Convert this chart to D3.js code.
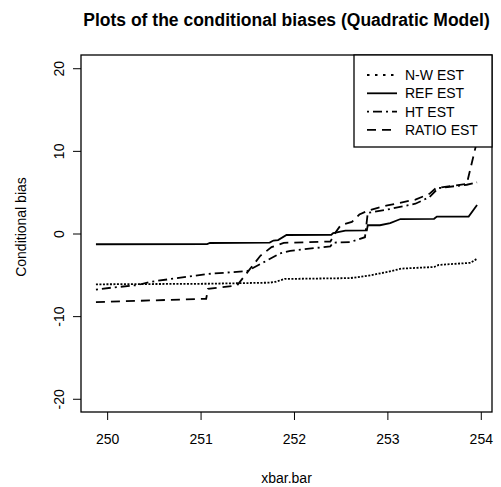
<!DOCTYPE html>
<html>
<head>
	<meta charset="utf-8">
	<script src="https://cdn.jsdelivr.net/npm/d3@7"></script>
	<style>
		html, body {
			padding: 0;
			margin: 0;
			background: white;
		}
		text {
			font-family: "Liberation Sans", Arial, sans-serif;
		}
	</style>
</head>
<body>
	<script>
		var width = 501, height = 487;

		// data: [xbar.bar, conditional bias]
		var nwEst = [[249.88,-6.15],[251.07,-6.08],[251.74,-5.95],[251.8,-5.85],[251.9,-5.5],
			[252.6,-5.4],[252.8,-5.1],[253.0,-4.65],[253.15,-4.25],[253.5,-4.05],
			[253.55,-3.8],[253.89,-3.55],[253.96,-3.05]];
		var refEst = [[249.88,-1.3],[251.07,-1.28],[251.1,-1.15],[251.74,-1.1],[251.78,-0.85],
			[251.83,-0.8],[251.92,-0.18],[252.4,-0.15],[252.42,0.05],[252.55,0.35],
			[252.78,0.38],[252.79,1.0],[252.92,1.0],[253.03,1.25],[253.14,1.75],
			[253.5,1.78],[253.53,2.05],[253.87,2.05],[253.96,3.45]];
		var htEst = [[249.88,-6.8],[250.05,-6.55],[250.32,-6.25],[250.46,-5.85],[251.07,-4.9],
			[251.5,-4.55],[251.64,-3.7],[251.85,-2.4],[251.96,-2.1],[252.39,-1.55],
			[252.42,-1.1],[252.6,-1.05],[252.76,-0.45],[252.79,2.5],[253.0,2.9],
			[253.3,3.6],[253.45,4.4],[253.52,5.2],[253.55,5.5],[253.85,5.9],[253.96,6.2]];
		var ratioEst = [[249.88,-8.3],[251.06,-7.9],[251.08,-6.7],[251.39,-6.3],[251.64,-2.7],
			[251.76,-1.65],[251.89,-1.13],[252.39,-0.97],[252.45,0.2],[252.5,1.0],
			[252.62,1.4],[252.7,2.3],[252.8,2.8],[253.0,3.4],[253.3,4.1],[253.45,4.8],
			[253.52,5.5],[253.85,6.0],[253.96,11.2]];

		var xTicks = [250, 251, 252, 253, 254];
		var yTicks = [-20, -10, 0, 10, 20];
		var legendNames = ["N-W EST", "REF EST", "HT EST", "RATIO EST"];
		var dashes = ["2,1.5", null, "2,4,9,4", "9,6"];

		var series = [nwEst, refEst, htEst, ratioEst];

		/* plot region, as R lays it out */
		var pLeft = 81, pRight = 492, pTop = 55, pBottom = 412;

		var svg = d3.select('body').append('svg')
			.attr('width', width)
			.attr('height', height);

		var x = d3.scaleLinear().domain([249.72, 254.12]).range([pLeft, pRight]);
		var y = d3.scaleLinear().domain([-21.6, 21.6]).range([pBottom, pTop]);

		// plain hyphen for negatives, like R
		var fmt = function(d) { return String(d); };

		/* axes */
		var xAxis = svg.append('g')
			.attr('transform', 'translate(0,' + pBottom + ')')
			.call(d3.axisBottom(x).tickValues(xTicks).tickSize(8).tickPadding(14).tickFormat(fmt));
		xAxis.select('.domain').remove();
		xAxis.selectAll('text').attr('font-size', 14).attr('fill', 'black');

		var yAxis = svg.append('g')
			.attr('transform', 'translate(' + pLeft + ',0)')
			.call(d3.axisLeft(y).tickValues(yTicks).tickSize(8).tickFormat(fmt));
		yAxis.select('.domain').remove();
		yAxis.selectAll('.tick text')
			.attr('font-size', 14)
			.attr('fill', 'black')
			.attr('text-anchor', 'middle')
			.attr('x', null).attr('dy', null)
			.attr('y', 0)
			.attr('transform', 'translate(-17,0) rotate(-90)');

		/* box */
		svg.append('rect')
			.attr('x', pLeft).attr('y', pTop)
			.attr('width', pRight - pLeft).attr('height', pBottom - pTop)
			.attr('fill', 'none').attr('stroke', 'black').attr('stroke-width', 1.3);

		/* lines */
		var line = d3.line()
			.x(function(d) { return x(d[0]); })
			.y(function(d) { return y(d[1]); });

		svg.selectAll('path.series')
			.data(series)
			.enter().append('path')
			.attr('class', 'series')
			.attr('d', line)
			.attr('fill', 'none')
			.attr('stroke', 'black')
			.attr('stroke-width', 1.8)
			.attr('stroke-dasharray', function(d, i) { return dashes[i]; });

		/* legend */
		var lg = svg.append('g');
		lg.append('rect')
			.attr('x', 354).attr('y', pTop)
			.attr('width', pRight - 354).attr('height', 92)
			.attr('fill', 'white').attr('stroke', 'black').attr('stroke-width', 1.3);
		legendNames.forEach(function(name, i) {
			var ly = 75 + i * 18.3;
			lg.append('line')
				.attr('x1', 367).attr('x2', 397)
				.attr('y1', ly).attr('y2', ly)
				.attr('stroke', 'black').attr('stroke-width', 1.8)
				.attr('stroke-dasharray', i == 0 ? '2.5,5.5' : dashes[i]);
			lg.append('text')
				.attr('x', 405).attr('y', ly + 5)
				.attr('font-size', 14)
				.text(name);
		});

		/* titles */
		svg.append('text')
			.attr('x', (pLeft + pRight) / 2).attr('y', 26)
			.attr('text-anchor', 'middle')
			.attr('font-size', 17.5).attr('font-weight', 'bold')
			.text('Plots of the conditional biases (Quadratic Model)');

		svg.append('text')
			.attr('x', (pLeft + pRight) / 2).attr('y', 483)
			.attr('text-anchor', 'middle')
			.attr('font-size', 14)
			.text('xbar.bar');

		svg.append('text')
			.attr('transform', 'translate(26,' + 227 + ') rotate(-90)')
			.attr('text-anchor', 'middle')
			.attr('font-size', 14)
			.text('Conditional bias');
	</script>
</body>
</html>
